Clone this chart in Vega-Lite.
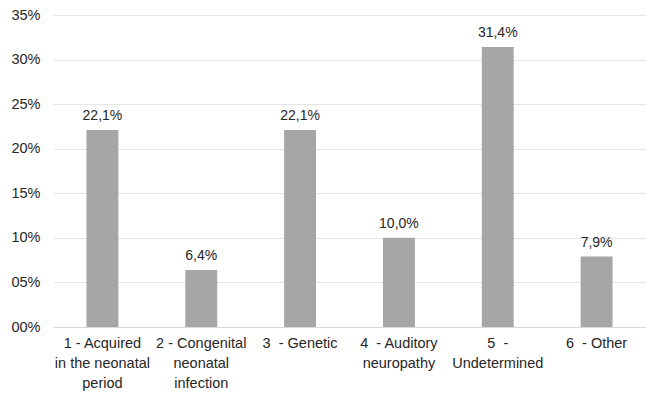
{
  "$schema": "https://vega.github.io/schema/vega-lite/v6.json",
  "width": 593,
  "height": 312,
  "autosize": {"type": "none"},
  "padding": {"left": 53, "top": 15, "right": 0, "bottom": 66},
  "background": "white",
  "config": {
    "locale": {"number": {"decimal": ",", "thousands": ".", "grouping": [3], "currency": ["", "€"]}},
    "font": "Liberation Sans",
    "view": {"stroke": null}
  },
  "data": {
    "values": [
      {"cause": "1 - Acquired|in the neonatal|period", "share": 0.221},
      {"cause": "2 - Congenital|neonatal|infection", "share": 0.064},
      {"cause": "3\u00a0 - Genetic", "share": 0.221},
      {"cause": "4\u00a0 - Auditory|neuropathy", "share": 0.100},
      {"cause": "5\u00a0 -|Undetermined", "share": 0.314},
      {"cause": "6\u00a0 - Other", "share": 0.079}
    ]
  },
  "encoding": {
    "x": {
      "field": "cause",
      "type": "nominal",
      "sort": null,
      "scale": {"paddingInner": 0.677, "paddingOuter": 0.3385},
      "axis": {
        "title": null,
        "labelAngle": 0,
        "labelExpr": "split(datum.label, '|')",
        "labelFont": "Liberation Sans",
        "labelFontSize": 14.5,
        "labelColor": "#262626",
        "labelLineHeight": 20,
        "labelPadding": 9,
        "labelBaseline": "top",
        "ticks": false,
        "domain": true,
        "domainColor": "#d9d9d9",
        "domainWidth": 1
      }
    },
    "y": {
      "field": "share",
      "type": "quantitative",
      "scale": {"domain": [0, 0.35], "nice": false},
      "axis": {
        "title": null,
        "values": [0, 0.05, 0.1, 0.15, 0.2, 0.25, 0.3, 0.35],
        "labelExpr": "datum.value < 0.1 ? '0' + format(datum.value, '.0%') : format(datum.value, '.0%')",
        "labelFont": "Liberation Sans",
        "labelFontSize": 14.5,
        "labelColor": "#262626",
        "labelPadding": 13,
        "ticks": false,
        "domain": false,
        "grid": true,
        "gridColor": "#e6e6e6",
        "gridWidth": 1
      }
    }
  },
  "layer": [
    {"mark": {"type": "bar", "color": "#a6a6a6"}},
    {
      "mark": {"type": "text", "baseline": "bottom", "dy": -7, "fontSize": 14, "color": "#262626", "font": "Liberation Sans"},
      "encoding": {"text": {"field": "share", "type": "quantitative", "format": ".1%"}}
    }
  ]
}
